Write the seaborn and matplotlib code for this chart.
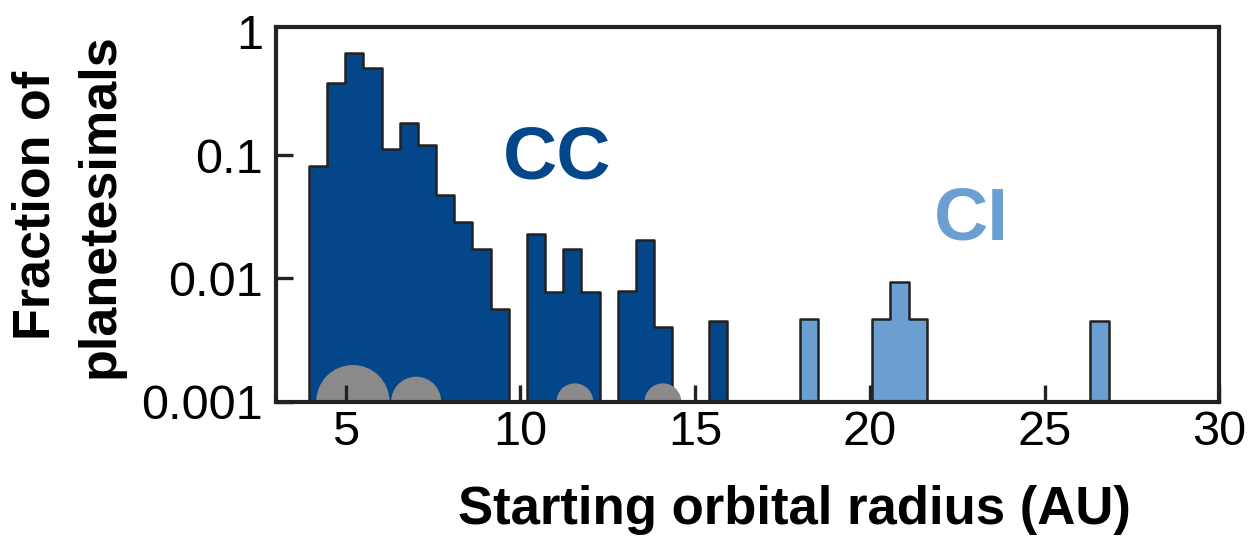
import numpy as np
import pandas as pd
import matplotlib
matplotlib.use("Agg")
import matplotlib.pyplot as plt
import seaborn as sns

# Histogram bin centres (AU) and fraction of planetesimals per bin
cc_radius = [4.21, 4.73, 5.25, 5.77, 6.29, 6.81, 7.33, 7.85, 8.37, 8.89, 9.41,
             10.45, 10.97, 11.49, 12.01,
             13.05, 13.57, 14.09,
             15.65]
cc_fraction = [0.082, 0.381, 0.674, 0.511, 0.111, 0.181, 0.120, 0.0474, 0.0285, 0.0172, 0.00561,
               0.0228, 0.0078, 0.0172, 0.0078,
               0.0079, 0.0205, 0.0040,
               0.0045]

ci_radius = [18.25, 20.33, 20.85, 21.37, 26.57]
ci_fraction = [0.0047, 0.0047, 0.0093, 0.0047, 0.0045]

# Giant planet starting positions (AU)
planet_radius = [5.21, 7.02, 11.56, 14.08]
planet_marker_area = [2790, 1296, 697, 697]

x_ticks = [5, 10, 15, 20, 25, 30]
y_ticks = [0.001, 0.01, 0.1, 1]
y_tick_labels = ["0.001", "0.01", "0.1", "1"]

bin_start, bin_width, n_bins = 3.95, 0.52, 46
bin_range = (bin_start, bin_start + bin_width * n_bins)

CC_COLOR = "#03468a"
CI_COLOR = "#6b9fd1"
EDGE = "#222222"

sns.set_theme(style="white")
plt.rcParams["font.family"] = ["Liberation Sans", "DejaVu Sans"]

fig = plt.figure(figsize=(12.6, 5.37), dpi=100)
ax = fig.add_axes([0.2188, 0.252, 0.7489, 0.6983])
ax.set_yscale("log")

for r, f, c in [(cc_radius, cc_fraction, CC_COLOR), (ci_radius, ci_fraction, CI_COLOR)]:
    df = pd.DataFrame({"radius": r, "fraction": f})
    sns.histplot(data=df, x="radius", weights="fraction", bins=n_bins, binrange=bin_range,
                 element="step", fill=True, color=c, alpha=1, edgecolor=EDGE,
                 linewidth=1.8, ax=ax)

sns.scatterplot(x=planet_radius, y=[0.001] * len(planet_radius), s=planet_marker_area,
                color="#8a8a8a", linewidth=0, ax=ax, zorder=2, legend=False)

ax.set_xlim(3, 30)
ax.set_ylim(0.001, 1.1)
ax.set_xticks(x_ticks)
ax.set_xticklabels([str(t) for t in x_ticks])
ax.set_yticks(y_ticks)
ax.set_yticklabels(y_tick_labels)
ax.minorticks_off()
ax.set_axisbelow(False)

ax.tick_params(axis="both", which="major", direction="in", length=12.5, width=2.4,
               color="#222222", labelsize=35, labelcolor="black",
               bottom=True, left=True, top=False, right=False)
ax.tick_params(axis="x", pad=6)
ax.tick_params(axis="y", pad=9)
# the tick at 1 sits against the top frame; only its label is shown
ax.yaxis.get_major_ticks()[-1].tick1line.set_visible(False)

for s in ax.spines.values():
    s.set_linewidth(3)
    s.set_color("#222222")
    s.set_visible(True)

ax.set_xlabel("Starting orbital radius (AU)", fontsize=38, fontweight="bold", color="black")
ax.xaxis.set_label_coords(0.550, -0.222)
ax.set_ylabel("Fraction of\nplanetesimals", fontsize=37.5, fontweight="bold",
              color="black", linespacing=1.38)
ax.yaxis.set_label_coords(-0.1605, 0.522)

ax.text(11.05, 0.0651, "CC", fontsize=54, fontweight="bold", color=CC_COLOR,
        ha="center", va="baseline")
ax.text(22.9, 0.0208, "CI", fontsize=54, fontweight="bold", color=CI_COLOR,
        ha="center", va="baseline")

fig.savefig("out.png", dpi=100)
